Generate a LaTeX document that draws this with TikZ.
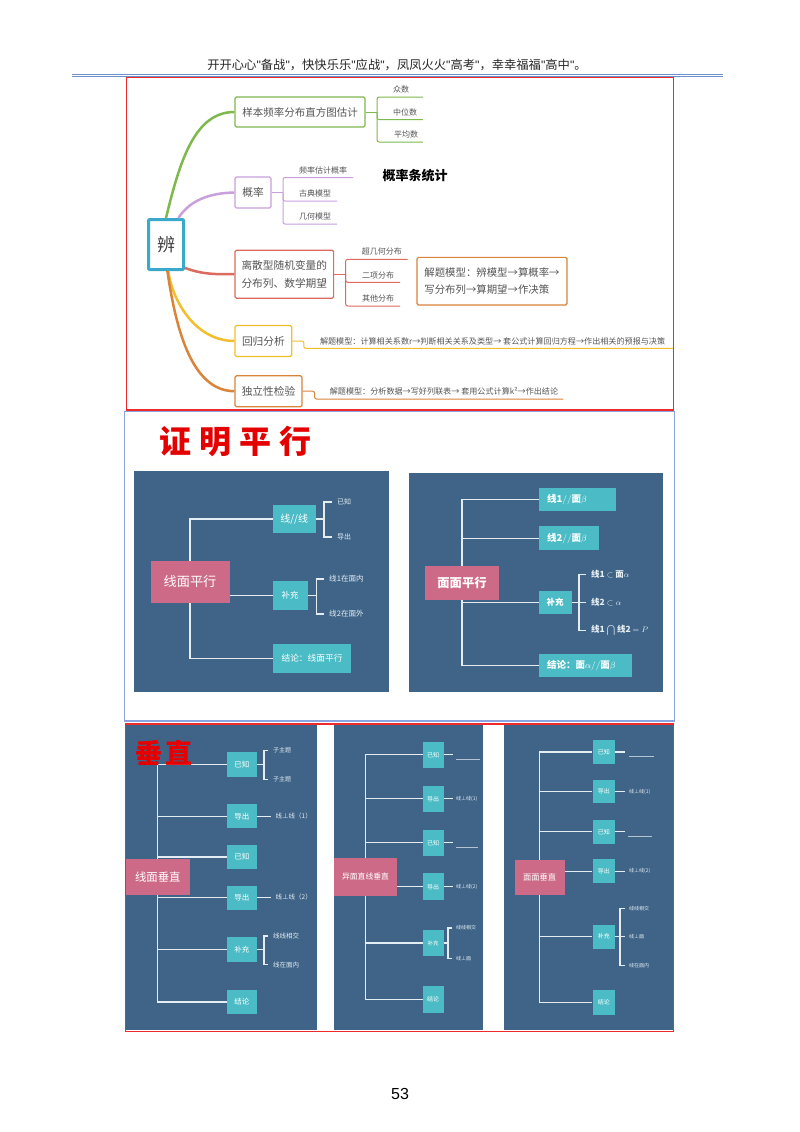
\documentclass[tikz,border=0pt]{standalone}
\usepackage{fontspec}
\setmainfont{Noto Sans CJK SC}
\newfontfamily\numfont{Liberation Sans}
\usetikzlibrary{arrows.meta}
\definecolor{panelblue}{HTML}{3F6488}
\definecolor{pinkbox}{HTML}{CD6A87}
\definecolor{tealbox}{HTML}{4BBCC6}
\definecolor{wire}{HTML}{E4EDF2}
\definecolor{inktext}{HTML}{555555}
\definecolor{mapgreen}{HTML}{7FB84D}
\definecolor{mappurple}{HTML}{C9A0DC}
\definecolor{mapred}{HTML}{DB6B5E}
\definecolor{mapyellow}{HTML}{F2BE2C}
\definecolor{maporange}{HTML}{D9843A}
\definecolor{mapcyan}{HTML}{3BA9CB}
\definecolor{framered}{HTML}{EE2A2A}
\definecolor{frameblue}{HTML}{8AA4E0}
\definecolor{rulecolor}{HTML}{6F8FC9}
\newcommand{\fsz}[1]{\fontsize{#1}{#1}\selectfont}
\newcommand{\qt}{{\numfont"}}
\tikzset{
	mapbox/.style={draw, fill=white, line width=1.2pt, rounded corners=1.5pt, text=inktext, inner sep=0pt, align=left},
	mapleaf/.style={text=inktext, inner sep=0pt, font=\fsz{8}},
	maplink/.style={line width=2.5pt},
	mapline/.style={line width=1pt, rounded corners=2pt},
	pinkrect/.style={fill=pinkbox, text=white, inner sep=0pt},
	tealrect/.style={fill=tealbox, text=white, inner sep=0pt},
	wireline/.style={color=wire, line width=1.2pt},
	wireleaf/.style={text=wire, anchor=west, inner ysep=0pt, inner xsep=5pt},
	blank/.style={color=wire!70!panelblue, line width=.5pt},
}
\begin{document}
\begin{tikzpicture}[x=1pt, y=-1pt]
	\useasboundingbox[fill=white] (0,0) rectangle (800,1132);
	% header
	\node[font=\fsz{12.3}, text=black!85, inner sep=0pt] (header) at (397,65) {开开心心\qt 备战\qt ，快快乐乐\qt 应战\qt ，凤凤火火\qt 高考\qt ，幸幸福福\qt 高中\qt 。};
	\draw[color=rulecolor, line width=1pt] (72,74.3) -- (723,74.3);
	\draw[color=rulecolor, line width=.6pt] (72,76) -- (723,76);
	\node[font=\numfont\fsz{16}, inner sep=0pt] (pagenum) at (400,1094) {53};
	% frames and panels
	\draw[color=framered, line width=1.5pt] (126.5,77.5) rectangle (673.5,410);
	\draw[color=frameblue, line width=1.3pt] (124.5,411.5) rectangle (674.5,721);
	\fill[panelblue] (134,471) rectangle (388.5,692);
	\fill[panelblue] (409,472.7) rectangle (663,692);
	\fill[panelblue] (126,724.7) rectangle (316.7,1030);
	\fill[panelblue] (334,724.7) rectangle (483.3,1030);
	\fill[panelblue] (504,724.7) rectangle (673.3,1030);
	\draw[color=framered, line width=1.5pt] (125.7,724) rectangle (673.5,1031.5);

	% mind map
	\node[font=\fsz{13}\bfseries, inner sep=0pt] (gltitle) at (415,176) {概率条统计};
	\node[draw=mapcyan, fill=white, line width=3pt, rounded corners=1pt, minimum width=35pt, minimum height=50pt, font=\fsz{18}, text=black!75, inner sep=0pt] (bian) at (166,244.5) {辨};
	\node[mapbox, draw=mapgreen, font=\fsz{10.5}, minimum width=130pt, minimum height=30pt, align=center] (yangben) at (300,112) {样本频率分布直方图估计};
	\node[mapbox, draw=mappurple, font=\fsz{10.7}, minimum width=36pt, minimum height=31pt, align=center] (gailv) at (253,192.5) {概率};
	\node[mapbox, draw=mapred, font=\fsz{10.7}, minimum width=98.6pt, minimum height=48pt, align=center] (lisan) at (284.3,274.2) {离散型随机变量的\\[7pt]分布列、数学期望};
	\node[mapbox, draw=mapyellow, font=\fsz{10.7}, minimum width=56.8pt, minimum height=31pt, align=center] (huigui) at (263.4,341) {回归分析};
	\node[mapbox, draw=maporange, font=\fsz{10.7}, minimum width=67pt, minimum height=31pt, align=center] (duli) at (268.5,391.2) {独立性检验};
	\node[mapbox, draw=maporange, font=\fsz{10.4}, minimum width=150pt, minimum height=47.7pt] (moxing) at (492,281.2) {解题模型：辨模型→算概率→\\[6.3pt]写分布列→算期望→作决策};

	\draw[maplink, mapgreen] (bian.north) .. controls (180,160) and (195,112) .. (yangben.west);
	\draw[maplink, mappurple] (bian.65) .. controls (190,200) and (210,193) .. (gailv.west);
	\draw[maplink, mapred] (bian.-51) to[out=-20, in=180] (lisan.west);
	\draw[maplink, mapyellow] (bian.-85) .. controls (172,300) and (195,341) .. (huigui.west);
	\draw[maplink, maporange] (bian.-87) .. controls (176,330) and (192,391) .. (duli.west);

	\node[mapleaf] (zhongshu) at (401,89) {众数};
	\node[mapleaf] (zhongwei) at (405,112) {中位数};
	\node[mapleaf] (pingjun) at (406,134) {平均数};
	\coordinate (ybfork) at (377,112);
	\coordinate (ybend1) at (423,97);
	\coordinate (ybend2) at (423,119.5);
	\coordinate (ybend3) at (423,142);
	\draw[mapline, mapgreen] (yangben.east) -- (ybfork);
	\draw[mapline, mapgreen] (ybend1) -| (ybfork);
	\draw[mapline, mapgreen] (ybend2) -| (ybfork);
	\draw[mapline, mapgreen] (ybend3) -| (ybfork);

	\node[mapleaf] (pinlv) at (323,170) {频率估计概率};
	\node[mapleaf] (gudian) at (315,193) {古典模型};
	\node[mapleaf] (jihe) at (315,216) {几何模型};
	\coordinate (glfork) at (283,192.5);
	\coordinate (glend1) at (353,177.5);
	\coordinate (glend2) at (337,201);
	\coordinate (glend3) at (337,224);
	\draw[mapline, mappurple] (gailv.east) -- (glfork);
	\draw[mapline, mappurple] (glend1) -| (glfork);
	\draw[mapline, mappurple] (glend2) -| (glfork);
	\draw[mapline, mappurple] (glend3) -| (glfork);

	\node[mapleaf] (chaoji) at (381.8,251.7) {超几何分布};
	\node[mapleaf] (erxiang) at (378,275) {二项分布};
	\node[mapleaf] (qita) at (378,298.3) {其他分布};
	\coordinate (lsfork) at (345.7,274.2);
	\coordinate (lsend1) at (407.5,259.3);
	\coordinate (lsend2) at (400,282.3);
	\coordinate (lsend3) at (400,306);
	\draw[mapline, mapred] (lisan.east) -- (lsfork);
	\draw[mapline, mapred] (lsend1) -| (lsfork);
	\draw[mapline, mapred] (lsend2) -| (lsfork);
	\draw[mapline, mapred] (lsend3) -| (lsfork);

	\node[mapleaf, font=\fsz{8.1}] (hgtext) at (492.6,341) {解题模型：计算相关系数r→判断相关关系及类型→ 套公式计算回归方程→作出相关的预报与决策};
	\coordinate (hgend) at (673,348.3);
	\draw[mapline, mapyellow] (huigui.east) -- ++(11.4,0) |- (hgend);
	\node[mapleaf, font=\fsz{8.1}] (dltext) at (444,391.7) {解题模型：分析数据→写好列联表→ 套用公式计算k²→作出结论};
	\coordinate (dlend) at (563,399);
	\draw[mapline, maporange] (duli.east) -- ++(12,0) |- (dlend);

	% parallel
	\node[font=\fsz{32}\bfseries, text=red!90!black, inner sep=0pt] (pxtitle) at (235,441) {证\hspace{8pt}明\hspace{8pt}平\hspace{8pt}行};
	\node[pinkrect, font=\fsz{13.2}, minimum width=79pt, minimum height=42pt] (xmpx) at (190,581.7) {线面平行};
	\node[tealrect, font=\fsz{10}, minimum width=43pt, minimum height=28.6pt] (xxpx) at (294.2,519) {线//线};
	\node[tealrect, font=\fsz{8.5}, minimum width=35pt, minimum height=28.7pt] (bc1) at (290.2,595.7) {补充};
	\node[tealrect, font=\fsz{8.7}, minimum width=78.6pt, minimum height=29pt] (jl1) at (312,658.5) {结论：线面平行};
	\draw[wireline] (xmpx.north) |- (xxpx.west);
	\draw[wireline] (xmpx.east |- bc1.west) -- (bc1.west);
	\draw[wireline] (xmpx.south) |- (jl1.west);
	\node[wireleaf, font=\fsz{7}] (yz1) at (332,502) {已知};
	\node[wireleaf, font=\fsz{7}] (dc1) at (332,537) {导出};
	\coordinate (fork1) at (324,519);
	\draw[wireline] (xxpx.east) -- (fork1);
	\draw[wireline] (yz1.west) -| (fork1);
	\draw[wireline] (dc1.west) -| (fork1);
	\node[wireleaf, font=\fsz{7.6}] (xn1) at (324,579) {线1在面内};
	\node[wireleaf, font=\fsz{7.6}] (xw1) at (324,614) {线2在面外};
	\coordinate (fork2) at (316.7,595.7);
	\draw[wireline] (bc1.east) -- (fork2);
	\draw[wireline] (xn1.west) -| (fork2);
	\draw[wireline] (xw1.west) -| (fork2);

	\node[pinkrect, font=\fsz{12.3}\bfseries, minimum width=73.7pt, minimum height=33.7pt] (mmpx) at (462,582.8) {面面平行};
	\node[tealrect, font=\fsz{9.5}\bfseries, inner xsep=8.3pt, text width=60.7pt, align=left, minimum height=23pt, anchor=west] (xm1) at (538.7,499.3) {线1$//$面$\beta$};
	\node[tealrect, font=\fsz{9.5}\bfseries, inner xsep=8.3pt, text width=43.7pt, align=left, minimum height=23.7pt, anchor=west] (xm2) at (538.7,538.2) {线2$//$面$\beta$};
	\node[tealrect, font=\fsz{8.5}\bfseries, minimum width=32.6pt, minimum height=23.3pt, anchor=west] (bc2) at (538.7,602.3) {补充};
	\node[tealrect, font=\fsz{9.5}\bfseries, inner xsep=8.3pt, text width=76pt, align=left, minimum height=23pt, anchor=west] (jl2) at (538.7,665.8) {结论：面$\alpha//$面$\beta$};
	\draw[wireline] (mmpx.north) |- (xm1.west);
	\draw[wireline] (mmpx.north) |- (xm2.west);
	\draw[wireline] (mmpx.south) |- (bc2.west);
	\draw[wireline] (mmpx.south) |- (jl2.west);
	\node[wireleaf, font=\fsz{8.5}\bfseries] (ml1) at (586,574.3) {线1 $\subset$ 面$\alpha$};
	\node[wireleaf, font=\fsz{8.5}\bfseries] (ml2) at (586,602.3) {线2 $\subset\alpha$};
	\node[wireleaf, font=\fsz{8.5}\bfseries] (ml3) at (586,630.7) {线1 $\bigcap$ 线2 $=P$};
	\coordinate (fork3) at (579,602.3);
	\draw[wireline] (bc2.east) -- (ml2.west);
	\draw[wireline] (ml1.west) -| (fork3);
	\draw[wireline] (ml3.west) -| (fork3);

	% perpendicular, left
	\node[pinkrect, font=\fsz{11.4}, minimum width=64.3pt, minimum height=35.4pt] (xmcz) at (157.8,877) {线面垂直};
	\node[tealrect, font=\fsz{7.5}, minimum width=29.7pt, minimum height=24.4pt] (ay1) at (241.8,764.3) {已知};
	\node[tealrect, font=\fsz{7.5}, minimum width=29.7pt, minimum height=24pt] (ad1) at (241.8,816.3) {导出};
	\node[tealrect, font=\fsz{7.5}, minimum width=29.7pt, minimum height=24pt] (ay2) at (241.8,857) {已知};
	\node[tealrect, font=\fsz{7.5}, minimum width=29.7pt, minimum height=24pt] (ad2) at (241.8,897.5) {导出};
	\node[tealrect, font=\fsz{7.5}, minimum width=29.7pt, minimum height=24.4pt] (abc) at (241.8,949.5) {补充};
	\node[tealrect, font=\fsz{7.5}, minimum width=29.7pt, minimum height=24pt] (ajl) at (241.8,1002) {结论};
	\draw[wireline] (xmcz.north) |- (ay1.west);
	\draw[wireline] (xmcz.north) |- (ad1.west);
	\draw[wireline] (xmcz.north) |- (ay2.west);
	\draw[wireline] (xmcz.south) |- (ad2.west);
	\draw[wireline] (xmcz.south) |- (abc.west);
	\draw[wireline] (xmcz.south) |- (ajl.west);
	\node[wireleaf, font=\fsz{6}] (azt1) at (268,750.5) {子主题};
	\node[wireleaf, font=\fsz{6}] (azt2) at (268,779.5) {子主题};
	\coordinate (afork1) at (264,764.3);
	\draw[wireline] (ay1.east) -- (afork1);
	\draw[wireline] (azt1.west) -| (afork1);
	\draw[wireline] (azt2.west) -| (afork1);
	\node[wireleaf, font=\fsz{6.5}] (al1) at (270.5,816.3) {线⊥线（1）};
	\node[wireleaf, font=\fsz{6.5}] (al2) at (270.5,897.5) {线⊥线（2）};
	\draw[wireline] (ad1.east) -- (al1.west);
	\draw[wireline] (ad2.east) -- (al2.west);
	\node[wireleaf, font=\fsz{6.5}] (axj) at (268,936) {线线相交};
	\node[wireleaf, font=\fsz{6.5}] (azn) at (268,964.7) {线在面内};
	\coordinate (afork2) at (264,949.5);
	\draw[wireline] (abc.east) -- (afork2);
	\draw[wireline] (axj.west) -| (afork2);
	\draw[wireline] (azn.west) -| (afork2);
	\node[font=\fsz{27}\bfseries, text=red!90!black, inner sep=0pt] (cztitle) at (164,753) {垂\hspace{3pt}直};

	% perpendicular, middle
	\node[pinkrect, font=\fsz{7.8}, minimum width=62.7pt, minimum height=38.3pt] (ymcz) at (365.5,877) {异面直线垂直};
	\node[tealrect, font=\fsz{6}, minimum width=21pt, minimum height=26pt] (by1) at (433.2,754.7) {已知};
	\node[tealrect, font=\fsz{6}, minimum width=21pt, minimum height=26.4pt] (bd1) at (433.2,798.8) {导出};
	\node[tealrect, font=\fsz{6}, minimum width=21pt, minimum height=26.4pt] (by2) at (433.2,842.7) {已知};
	\node[tealrect, font=\fsz{6}, minimum width=21pt, minimum height=27pt] (bd2) at (433.2,886.8) {导出};
	\node[tealrect, font=\fsz{5.5}, minimum width=21pt, minimum height=26.6pt] (bbc) at (433.2,943) {补充};
	\node[tealrect, font=\fsz{6}, minimum width=21pt, minimum height=26.4pt] (bjl) at (433.2,999.5) {结论};
	\draw[wireline] (ymcz.north) |- (by1.west);
	\draw[wireline] (ymcz.north) |- (bd1.west);
	\draw[wireline] (ymcz.north) |- (by2.west);
	\draw[wireline] (ymcz.east |- bd2.west) -- (bd2.west);
	\draw[wireline] (ymcz.south) |- (bbc.west);
	\draw[wireline] (ymcz.south) |- (bjl.west);
	\coordinate (bgap1) at (453,754.7);
	\coordinate (bgap2) at (453,842.7);
	\draw[wireline] (by1.east) -- (bgap1);
	\draw[wireline] (by2.east) -- (bgap2);
	\draw[blank] (456,759.3) -- (480,759.3);
	\draw[blank] (456,847.3) -- (477.7,847.3);
	\node[wireleaf, font=\fsz{5}, inner xsep=3pt] (bl1) at (453,798.8) {线⊥线(1)};
	\node[wireleaf, font=\fsz{5}, inner xsep=3pt] (bl2) at (453,886.8) {线⊥线(2)};
	\draw[wireline] (bd1.east) -- (bl1.west);
	\draw[wireline] (bd2.east) -- (bl2.west);
	\node[wireleaf, font=\fsz{5}, inner xsep=4pt] (bxj) at (452,928) {线线相交};
	\node[wireleaf, font=\fsz{5}, inner xsep=4pt] (bxm) at (452,958.7) {线⊥面};
	\coordinate (bfork) at (448,943);
	\draw[wireline] (bbc.east) -- (bfork);
	\draw[wireline] (bxj.west) -| (bfork);
	\draw[wireline] (bxm.west) -| (bfork);

	% perpendicular, right
	\node[pinkrect, font=\fsz{8.3}, minimum width=50pt, minimum height=34.7pt] (mmcz) at (539.6,877.3) {面面垂直};
	\node[tealrect, font=\fsz{6}, minimum width=22.3pt, minimum height=24.3pt] (cy1) at (603.8,752) {已知};
	\node[tealrect, font=\fsz{6}, minimum width=22.3pt, minimum height=23.6pt] (cd1) at (603.8,791.6) {导出};
	\node[tealrect, font=\fsz{6}, minimum width=22.3pt, minimum height=24pt] (cy2) at (603.8,831.7) {已知};
	\node[tealrect, font=\fsz{6}, minimum width=22.3pt, minimum height=24pt] (cd2) at (603.8,871.3) {导出};
	\node[tealrect, font=\fsz{6}, minimum width=22.3pt, minimum height=24pt] (cbc) at (603.8,936.6) {补充};
	\node[tealrect, font=\fsz{6}, minimum width=22.3pt, minimum height=24.4pt] (cjl) at (603.8,1002.5) {结论};
	\draw[wireline] (mmcz.north) |- (cy1.west);
	\draw[wireline] (mmcz.north) |- (cd1.west);
	\draw[wireline] (mmcz.north) |- (cy2.west);
	\draw[wireline] (mmcz.east |- cd2.west) -- (cd2.west);
	\draw[wireline] (mmcz.south) |- (cbc.west);
	\draw[wireline] (mmcz.south) |- (cjl.west);
	\coordinate (cgap1) at (625.3,752);
	\coordinate (cgap2) at (625.3,831.7);
	\draw[wireline] (cy1.east) -- (cgap1);
	\draw[wireline] (cy2.east) -- (cgap2);
	\draw[blank] (629.3,756) -- (654,756);
	\draw[blank] (628.3,836) -- (652,836);
	\node[wireleaf, font=\fsz{5}, inner xsep=4pt] (cl1) at (625,791.6) {线⊥线(1)};
	\node[wireleaf, font=\fsz{5}, inner xsep=4pt] (cl2) at (625,871.3) {线⊥线(2)};
	\draw[wireline] (cd1.east) -- (cl1.west);
	\draw[wireline] (cd2.east) -- (cl2.west);
	\node[wireleaf, font=\fsz{5}, inner xsep=4pt] (cxj) at (625,908.7) {线线相交};
	\node[wireleaf, font=\fsz{5}, inner xsep=4pt] (cxm) at (625,936.6) {线⊥面};
	\node[wireleaf, font=\fsz{5}, inner xsep=4pt] (czn) at (625,965.7) {线在面内};
	\coordinate (cfork) at (620,936.6);
	\draw[wireline] (cbc.east) -- (cxm.west);
	\draw[wireline] (cxj.west) -| (cfork);
	\draw[wireline] (czn.west) -| (cfork);
\end{tikzpicture}
\end{document}
